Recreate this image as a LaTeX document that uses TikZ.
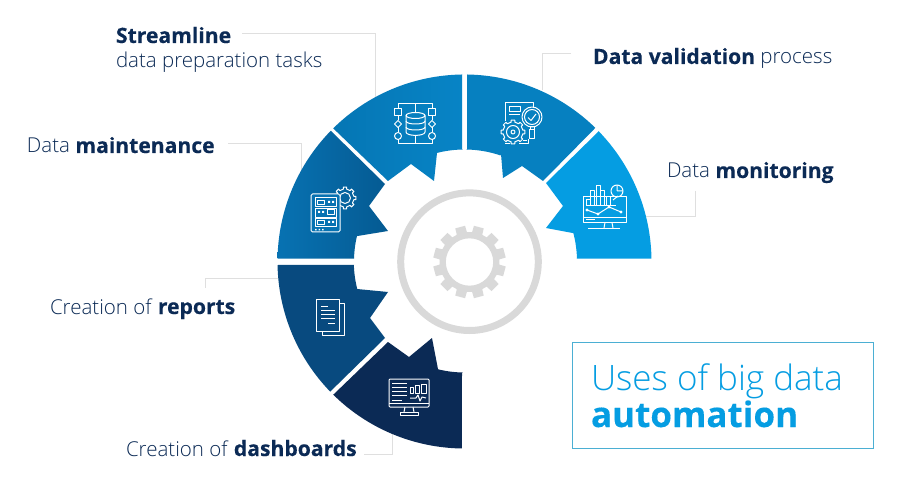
\documentclass[tikz,border=0pt]{standalone}
\usepackage{fontspec}
\setmainfont{Open Sans}[UprightFont=* Light,BoldFont=* Bold,BoldFeatures={Scale=1.03,FakeBold=0.2}]
\usetikzlibrary{calc}
\definecolor{navy}{HTML}{0B2A55}
\definecolor{tealine}{HTML}{4BAFD3}
\definecolor{skyb}{HTML}{059DE2}
\definecolor{ringg}{HTML}{D9D9D9}
\definecolor{tlA}{HTML}{0784C6}
\definecolor{tlB}{HTML}{0576B4}
\definecolor{trA}{HTML}{0680C0}
\definecolor{lfA}{HTML}{0772B2}
\definecolor{lfB}{HTML}{055A92}
\definecolor{rpA}{HTML}{084A7F}
\newcommand{\arcpts}[5]{-- plot[domain=#1:#2,samples=40] ({#3+#5*cos(\x)},{#4+#5*sin(\x)})}
\newcommand{\gearpts}[7]{% cx cy ro ri offset step half(tip)
 ({#1+#4*cos(#5-#7-2)},{#2+#4*sin(#5-#7-2)})
 \foreach \a in {0,#6,...,359}{
  -- ({#1+#4*cos(#5+\a-#7-2)},{#2+#4*sin(#5+\a-#7-2)})
  -- ({#1+#3*cos(#5+\a-#7)},{#2+#3*sin(#5+\a-#7)})
  -- ({#1+#3*cos(#5+\a+#7)},{#2+#3*sin(#5+\a+#7)})
  -- ({#1+#4*cos(#5+\a+#7+2)},{#2+#4*sin(#5+\a+#7+2)})
 } -- cycle}
\tikzset{
 lab/.style={anchor=base west,inner sep=0pt,outer sep=0pt,text=navy,font=\fontsize{20.5}{24}\selectfont},
 leader/.style={draw=ringg!85!white,line width=1pt},
 ic/.style={draw=white,line width=1pt,line join=round,fill=none},
 seg/.style={draw=none}
}
\begin{document}
\begin{tikzpicture}[x=1pt,y=-1pt]
\useasboundingbox (0,0) rectangle (900,489);
\fill[white] (0,0) rectangle (900,489);
% leaders
\coordinate (a1) at (242,34);\coordinate (a2) at (375,34);\coordinate (a3) at (375,97);
\coordinate (b1) at (228,144);\coordinate (b2) at (301,144);\coordinate (b3) at (301,180);
\coordinate (c1) at (571,54);\coordinate (c2) at (542,54);\coordinate (c3) at (542,90);
\coordinate (d1) at (695,191);\coordinate (d2) at (695,217);\coordinate (d3) at (645,217);
\coordinate (e1) at (205,288);\coordinate (e2) at (205,279);\coordinate (e3) at (282,279);
\coordinate (f1) at (364,454);\coordinate (f2) at (392,454);\coordinate (f3) at (392,430);
\draw[leader] (a1)--(a2)--(a3);
\draw[leader] (b1)--(b2)--(b3);
\draw[leader] (c1)--(c2)--(c3);
\draw[leader] (d1)--(d2)--(d3);
\draw[leader] (e1)--(e2)--(e3);
\draw[leader] (f1)--(f2)--(f3);
% segments
\path[seg,left color=tlB,right color=tlA] (462,150) -- (462,74) \arcpts{-90.8}{-134.6}{464.5}{261.5}{187} -- (388,181) -- (411,164) -- (434,181) -- (437,153) \arcpts{-104.2}{-90.8}{464.5}{261.5}{112} -- cycle;
\fill[trA] (467,150) -- (467,74) \arcpts{-89.2}{-45.6}{464.5}{261.5}{187} -- (543,181) -- (522,166) -- (503,178) -- (501,154) \arcpts{-71.2}{-89.2}{464.5}{261.5}{112} -- cycle;
\fill[skyb] (599,131) \arcpts{-44.1}{-0.9}{464.5}{261.5}{187} -- (577,258.7) \arcpts{-1.4}{-14.6}{464.5}{261.5}{112.5} -- (546,228) -- (563,206) -- (546,183) -- cycle;
\path[seg,left color=lfA,right color=lfB] (331,131) \arcpts{-135.7}{-179.1}{464.5}{261.5}{187} -- (354,258.7) \arcpts{-178.5}{-166.7}{464.5}{261.5}{110.5} -- (388,231) -- (369,206) -- (385,184) -- cycle;
\fill[rpA] (354,265) -- (278,265) \arcpts{178.9}{135.9}{464.5}{261.5}{187} -- (385,338) -- (370,318) -- (388,292) -- (357,289) \arcpts{165.6}{178.2}{464.5}{261.5}{110.7} -- cycle;
\fill[navy] (334,394) \arcpts{134.6}{90.8}{464.5}{261.5}{187} -- (462,373) \arcpts{91}{103.8}{464.5}{261.5}{111} -- (432,338) -- (409,357) -- (388,342) -- cycle;
% central gear
\draw[ringg,line width=7pt] (469.5,261.7) circle[radius=68.8pt];
\fill[ringg,even odd rule] \gearpts{469.5}{262}{36.5}{30}{15}{30}{8} (469.5,262) circle[radius=23.7pt];
% icon: database
\draw[ic] (398,109)--(398,104)--(432,104)--(432,109);
\draw[ic] (398,139.5)--(398,144)--(432,144)--(432,139.5);
\draw[ic] (415.5,104)--(415.5,112) (415.5,135)--(415.5,144);
\draw[ic] (394.7,109) rectangle (401.3,116);
\draw[ic] (428.7,109) rectangle (435.3,116);
\draw[ic] (398,116)--(398,120.5) (432,116)--(432,120.5) (398,127.5)--(398,132.5) (432,127.5)--(432,132.5);
\draw[ic] (398,120.5)--(401.5,124)--(398,127.5)--(394.5,124)--cycle;
\draw[ic] (432,120.5)--(435.5,124)--(432,127.5)--(428.5,124)--cycle;
\draw[ic] (398,136) circle[radius=3.5pt] (432,136) circle[radius=3.5pt];
\draw[ic] (415.5,115.5) ellipse[x radius=9.5pt,y radius=3pt];
\draw[ic] (406,115.5)--(406,132) .. controls (406,136.5) and (425,136.5) .. (425,132) -- (425,115.5);
\draw[ic] (406,121) .. controls (406,125) and (425,125) .. (425,121);
\draw[ic] (406,127) .. controls (406,131) and (425,131) .. (425,127);
% icon: validation
\draw[ic] (505,121)--(505,103)--(533,103)--(533,107);
\draw[ic] (519,144)--(528,144)--(528,139);
\draw[ic] (509,107) rectangle (520,112);
\draw[ic] (509,115)--(520,115);
\draw[ic] (523,141)--(527,141);
\draw[ic] (505,144)--(510,144);
\draw[ic] (532,117) circle[radius=10pt] (532,117) circle[radius=7.5pt];
\draw[ic] (528,117.5)--(531,120.5)--(536,114);
\draw[ic] (530,127) rectangle (534,130) (529.5,130) rectangle (534.5,139);
\draw[ic] \gearpts{513}{132}{12}{10}{0}{45}{9};
\draw[ic] (513,132) circle[radius=6.5pt] (513,132) circle[radius=2pt];
% icon: monitoring
\draw[ic] (583.5,197) rectangle (626,222.5);
\draw[ic] (583.5,217.5)--(626,217.5);
\draw[ic] (586,206)--(616,206);
\draw[ic] (586,206)--(586,200)--(590,200)--(590,206) (590,200)--(590,191)--(594,191)--(594,206);
\draw[ic] (596,206)--(596,186)--(600,186)--(600,206) (600,191)--(604,191)--(604,206);
\draw[ic] (606,206)--(606,197) (606,197)--(610,197)--(610,206);
\draw[ic] (617,191) circle[radius=6pt] (617,191)--(617,185) (617,191)--(623,191);
\draw[ic] (613,200)--(618,196);
\draw[ic] (587,210)--(598,214)--(609,207)--(621,212);
\fill[white] (587,210) circle[radius=1.6pt] (598,214) circle[radius=1.6pt] (609,207) circle[radius=1.6pt] (621,212) circle[radius=1.6pt];
\draw[ic] (605,222.5)--(604,228) (612,222.5)--(613,228);
\draw[ic] (588,228.5)--(620,228.5);
\draw[ic] (586,220)--(595,220);
% icon: maintenance
\draw[ic] \gearpts{345}{198}{11}{9}{0}{45}{9};
\draw[ic] (345,198) circle[radius=5.5pt];
\filldraw[ic,fill=lfA,rounded corners=1.5pt] (311,194) rectangle (340,232);
\draw[ic] (315,198) rectangle (336,207) (315,208.5) rectangle (336,217.5) (315,219) rectangle (336,227);
\draw[ic] (317.5,200.5) rectangle (324,204.5) (327,209.7) rectangle (334,214.5) (317.5,220.5) rectangle (324,224.5);
\fill[white] (328,201) rectangle (330,203) (332,201) rectangle (334,203) (318,211) rectangle (320,213) (322,211) rectangle (324,213) (328,221) rectangle (330,223) (332,221) rectangle (334,223) (315,229) rectangle (316.5,230.5) (318.5,229) rectangle (320,230.5) (322,229) rectangle (323.5,230.5);
% icon: reports
\draw[ic] (339,303)--(344,303)--(344,335)--(322,335)--(322,331);
\filldraw[ic,fill=rpA] (316,299) rectangle (339,331);
\draw[ic] (321,306)--(328,306) (321,310)--(335,310) (321,314)--(335,314) (321,318)--(335,318) (328,323)--(335,323);
% icon: dashboard
\draw[ic,rounded corners=1pt] (389,379) rectangle (429,407);
\draw[ic] (389,403)--(429,403);
\draw[ic] (392,383)--(407,383) (392,387)--(407,387) (392,391)--(407,391) (392,395)--(407,395) (392,400)--(402,400);
\draw[ic] (410,387) rectangle (413,393) (415.5,385.5) rectangle (419,393) (421.5,384) rectangle (426,393);
\draw[ic] (410,398)--(416,398)--(418,395)--(420,401)--(422,397)--(426,398);
\draw[ic] (405,407)--(404,412) (413,407)--(414,412);
\draw[ic] (400,412) rectangle (418,415);
% labels
\node[lab] (tStream) at (116,43) {\textbf{Streamline}};
\node[lab] (tPrep) at (116,68) {data preparation tasks};
\node[lab] (tMaint) at (27,153) {Data \textbf{maintenance}};
\node[lab] (tValid) at (593,64) {\textbf{Data validation} process};
\node[lab] (tMon) at (667,178) {Data \textbf{monitoring}};
\node[lab] (tRep) at (50,314) {Creation of \textbf{reports}};
\node[lab] (tDash) at (126,456) {Creation of \textbf{dashboards}};
% title box
\node[draw=tealine,line width=1.3pt,minimum width=301pt,minimum height=106pt,inner sep=0pt,anchor=north west] (box) at (572,342) {};
\node[lab,text=skyb,font=\fontsize{35}{40}\selectfont] (t1) at (591,390) {Uses of big data};
\node[lab,text=skyb,font=\fontsize{34}{40}\selectfont] (t2) at (591,427) {\textbf{automation}};
\end{tikzpicture}
\end{document}
